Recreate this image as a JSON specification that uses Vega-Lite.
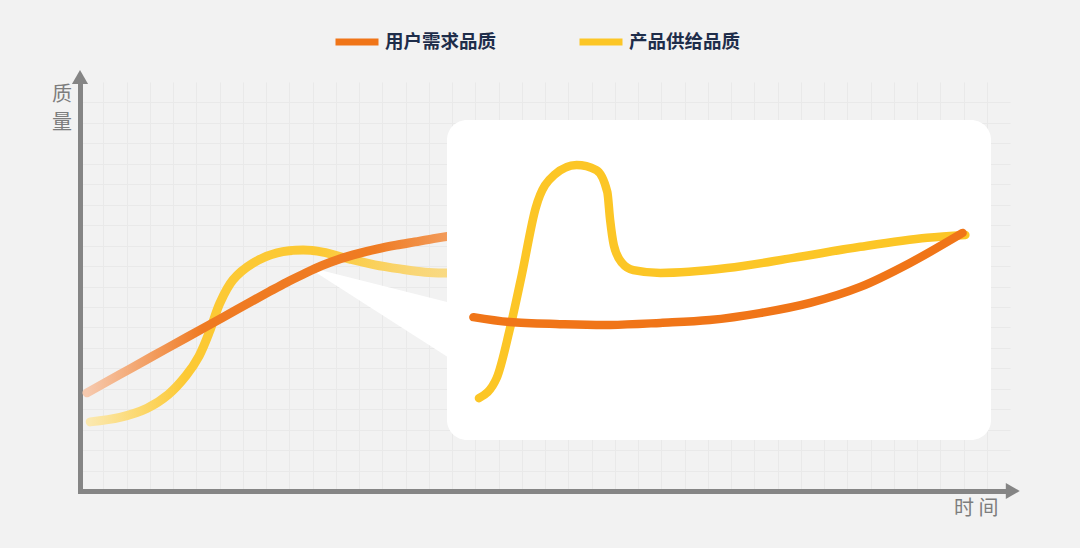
{
  "$schema": "https://vega.github.io/schema/vega-lite/v6.json",
  "width": 930,
  "height": 409,
  "autosize": {"type": "none"},
  "padding": {"left": 80, "top": 82, "right": 70, "bottom": 57},
  "background": "#f2f2f2",
  "config": {
    "view": {"stroke": null},
    "font": "Noto Sans CJK SC",
    "axis": {"domainColor": "#858585", "domainWidth": 5, "domainCap": "square", "ticks": false, "labels": false, "grid": true, "gridColor": "#e9e9e9", "gridWidth": 1}
  },
  "datasets": {
    "main": [
      {"series": "用户需求品质", "t": 0.75, "q": 24.0},
      {"series": "用户需求品质", "t": 4.3, "q": 28.5},
      {"series": "用户需求品质", "t": 7.85, "q": 33.0},
      {"series": "用户需求品质", "t": 11.5, "q": 37.6},
      {"series": "用户需求品质", "t": 14.3, "q": 41.1},
      {"series": "用户需求品质", "t": 16.9, "q": 44.4},
      {"series": "用户需求品质", "t": 20.4, "q": 48.8},
      {"series": "用户需求品质", "t": 22.2, "q": 51.0},
      {"series": "用户需求品质", "t": 24.0, "q": 53.0},
      {"series": "用户需求品质", "t": 26.0, "q": 55.1},
      {"series": "用户需求品质", "t": 28.0, "q": 56.8},
      {"series": "用户需求品质", "t": 30.0, "q": 58.1},
      {"series": "用户需求品质", "t": 32.0, "q": 59.2},
      {"series": "用户需求品质", "t": 34.0, "q": 60.1},
      {"series": "用户需求品质", "t": 36.0, "q": 60.9},
      {"series": "用户需求品质", "t": 38.0, "q": 61.7},
      {"series": "用户需求品质", "t": 40.0, "q": 62.4},
      {"series": "用户需求品质", "t": 42.0, "q": 63.0},
      {"series": "产品供给品质", "t": 1.1, "q": 16.9},
      {"series": "产品供给品质", "t": 4.3, "q": 18.0},
      {"series": "产品供给品质", "t": 7.2, "q": 20.2},
      {"series": "产品供给品质", "t": 9.5, "q": 23.6},
      {"series": "产品供给品质", "t": 11.4, "q": 28.2},
      {"series": "产品供给品质", "t": 12.8, "q": 33.0},
      {"series": "产品供给品质", "t": 14.0, "q": 39.4},
      {"series": "产品供给品质", "t": 15.05, "q": 46.0},
      {"series": "产品供给品质", "t": 16.45, "q": 51.6},
      {"series": "产品供给品质", "t": 18.6, "q": 55.7},
      {"series": "产品供给品质", "t": 21.2, "q": 58.2},
      {"series": "产品供给品质", "t": 24.0, "q": 58.9},
      {"series": "产品供给品质", "t": 26.1, "q": 58.4},
      {"series": "产品供给品质", "t": 29.0, "q": 56.7},
      {"series": "产品供给品质", "t": 31.7, "q": 55.3},
      {"series": "产品供给品质", "t": 34.4, "q": 54.3},
      {"series": "产品供给品质", "t": 37.1, "q": 53.5},
      {"series": "产品供给品质", "t": 39.5, "q": 53.3},
      {"series": "产品供给品质", "t": 41.9, "q": 53.3}
    ],
    "inset": [
      {"series": "产品供给品质", "t": 42.9, "q": 22.7},
      {"series": "产品供给品质", "t": 44.8, "q": 27.6},
      {"series": "产品供给品质", "t": 46.2, "q": 39.4},
      {"series": "产品供给品质", "t": 47.5, "q": 52.8},
      {"series": "产品供给品质", "t": 49.0, "q": 69.2},
      {"series": "产品供给品质", "t": 51.0, "q": 77.3},
      {"series": "产品供给品质", "t": 53.4, "q": 79.7},
      {"series": "产品供给品质", "t": 55.5, "q": 78.5},
      {"series": "产品供给品质", "t": 56.7, "q": 73.1},
      {"series": "产品供给品质", "t": 57.0, "q": 66.3},
      {"series": "产品供给品质", "t": 57.4, "q": 60.1},
      {"series": "产品供给品质", "t": 58.3, "q": 55.7},
      {"series": "产品供给品质", "t": 59.5, "q": 54.0},
      {"series": "产品供给品质", "t": 62.4, "q": 53.3},
      {"series": "产品供给品质", "t": 69.6, "q": 54.5},
      {"series": "产品供给品质", "t": 76.7, "q": 57.0},
      {"series": "产品供给品质", "t": 83.9, "q": 59.7},
      {"series": "产品供给品质", "t": 91.1, "q": 61.9},
      {"series": "产品供给品质", "t": 95.2, "q": 62.6},
      {"series": "用户需求品质", "t": 42.3, "q": 42.5},
      {"series": "用户需求品质", "t": 46.2, "q": 41.3},
      {"series": "用户需求品质", "t": 51.6, "q": 40.8},
      {"series": "用户需求品质", "t": 57.0, "q": 40.6},
      {"series": "用户需求品质", "t": 62.4, "q": 41.1},
      {"series": "用户需求品质", "t": 67.7, "q": 41.8},
      {"series": "用户需求品质", "t": 73.1, "q": 43.5},
      {"series": "用户需求品质", "t": 78.5, "q": 46.0},
      {"series": "用户需求品质", "t": 83.9, "q": 49.9},
      {"series": "用户需求品质", "t": 89.2, "q": 55.7},
      {"series": "用户需求品质", "t": 94.9, "q": 63.1}
    ],
    "wedge": [
      {"t": 24.4, "q": 54.8, "q2": 54.8},
      {"t": 40.0, "q": 45.9, "q2": 32.1}
    ],
    "box": [
      {"t": 39.46, "t2": 97.96, "q": 12.5, "q2": 90.7}
    ],
    "ylabel": [
      {"t": -1.94, "q": 99.2, "label": "质\n量"}
    ]
  },
  "encoding": {
    "x": {
      "field": "t", "type": "quantitative",
      "scale": {"domain": [0, 100], "nice": false, "zero": false},
      "axis": {
        "title": "时 间",
        "values": [2.5, 5, 7.5, 10, 12.5, 15, 17.5, 20, 22.5, 25, 27.5, 30, 32.5, 35, 37.5, 40, 42.5, 45, 47.5, 50, 52.5, 55, 57.5, 60, 62.5, 65, 67.5, 70, 72.5, 75, 77.5, 80, 82.5, 85, 87.5, 90, 92.5, 95, 97.5],
        "titleX": 918, "titleY": 7, "titleAlign": "right", "titleBaseline": "top",
        "titleFontSize": 20, "titleFontWeight": "normal", "titleColor": "#7d7d7d", "titleFont": "Noto Sans CJK SC"
      }
    },
    "y": {
      "field": "q", "type": "quantitative",
      "scale": {"domain": [0, 100], "nice": false, "zero": false},
      "axis": {
        "title": null,
        "values": [5, 10, 15, 20, 25, 30, 35, 40, 45, 50, 55, 60, 65, 70, 75, 80, 85, 90, 95]
      }
    }
  },
  "layer": [
    {
      "data": {"name": "wedge"},
      "mark": {"type": "area", "color": "#ffffff", "interpolate": "linear", "opacity": 1},
      "encoding": {"y2": {"field": "q2"}}
    },
    {
      "data": {"name": "main"},
      "transform": [{"filter": "datum.series === '产品供给品质'"}],
      "mark": {
        "type": "line", "interpolate": "catmull-rom", "strokeWidth": 9, "strokeCap": "round",
        "stroke": {"gradient": "linear", "x1": 0, "y1": 0, "x2": 1, "y2": 0,
          "stops": [{"offset": 0, "color": "#fbe8ae"}, {"offset": 0.25, "color": "#fcc934"}, {"offset": 0.6, "color": "#fcc934"}, {"offset": 0.85, "color": "#f9d676"}, {"offset": 1, "color": "#f8dc8c"}]}
      }
    },
    {
      "data": {"name": "main"},
      "transform": [{"filter": "datum.series === '用户需求品质'"}],
      "mark": {
        "type": "line", "interpolate": "catmull-rom", "strokeWidth": 9, "strokeCap": "round",
        "stroke": {"gradient": "linear", "x1": 0, "y1": 0, "x2": 1, "y2": 0,
          "stops": [{"offset": 0, "color": "#f6c9ae"}, {"offset": 0.3, "color": "#ef7a22"}, {"offset": 0.75, "color": "#ef7b22"}, {"offset": 1, "color": "#f3a56c"}]}
      }
    },
    {
      "data": {"name": "box"},
      "mark": {"type": "rect", "fill": "#ffffff", "cornerRadius": 20},
      "encoding": {
        "x2": {"field": "t2"},
        "y2": {"field": "q2"}
      }
    },
    {
      "data": {"name": "inset"},
      "transform": [{"filter": "datum.series === '产品供给品质'"}],
      "mark": {"type": "line", "interpolate": "monotone", "strokeWidth": 8.5, "strokeCap": "round"},
      "encoding": {
        "color": {
          "field": "series", "type": "nominal",
          "scale": {"domain": ["用户需求品质", "产品供给品质"], "range": ["#f07518", "#fcc626"]},
          "legend": {
            "orient": "none", "legendX": 252, "legendY": -65, "direction": "horizontal", "title": null,
            "symbolType": "stroke", "symbolSize": 1849, "symbolStrokeWidth": 7,
            "labelFont": "Noto Sans CJK SC", "labelFontSize": 18.5, "labelFontWeight": "bold", "labelColor": "#1e2d4a",
            "labelOffset": 3, "labelLimit": 300, "columnPadding": 68, "padding": 0
          }
        }
      }
    },
    {
      "data": {"name": "inset"},
      "transform": [{"filter": "datum.series === '用户需求品质'"}],
      "mark": {"type": "line", "interpolate": "catmull-rom", "strokeWidth": 8.5, "strokeCap": "round"},
      "encoding": {
        "color": {
          "field": "series", "type": "nominal",
          "scale": {"domain": ["用户需求品质", "产品供给品质"], "range": ["#f07518", "#fcc626"]},
          "legend": {
            "orient": "none", "legendX": 252, "legendY": -65, "direction": "horizontal", "title": null,
            "symbolType": "stroke", "symbolSize": 1849, "symbolStrokeWidth": 7,
            "labelFont": "Noto Sans CJK SC", "labelFontSize": 18.5, "labelFontWeight": "bold", "labelColor": "#1e2d4a",
            "labelOffset": 3, "labelLimit": 300, "columnPadding": 68, "padding": 0
          }
        }
      }
    },
    {
      "data": {"values": [{"t": 0, "q": 101.2}]},
      "mark": {"type": "point", "shape": "triangle-up", "filled": true, "color": "#858585", "size": 260, "opacity": 1}
    },
    {
      "data": {"values": [{"t": 100.3, "q": 0}]},
      "mark": {"type": "point", "shape": "triangle-right", "filled": true, "color": "#858585", "size": 260, "opacity": 1}
    },
    {
      "data": {"name": "ylabel"},
      "mark": {"type": "text", "align": "center", "baseline": "top", "fontSize": 20, "lineHeight": 28, "lineBreak": "\n", "color": "#7d7d7d", "font": "Noto Sans CJK SC"},
      "encoding": {
        "text": {"field": "label", "type": "nominal"}
      }
    }
  ]
}
